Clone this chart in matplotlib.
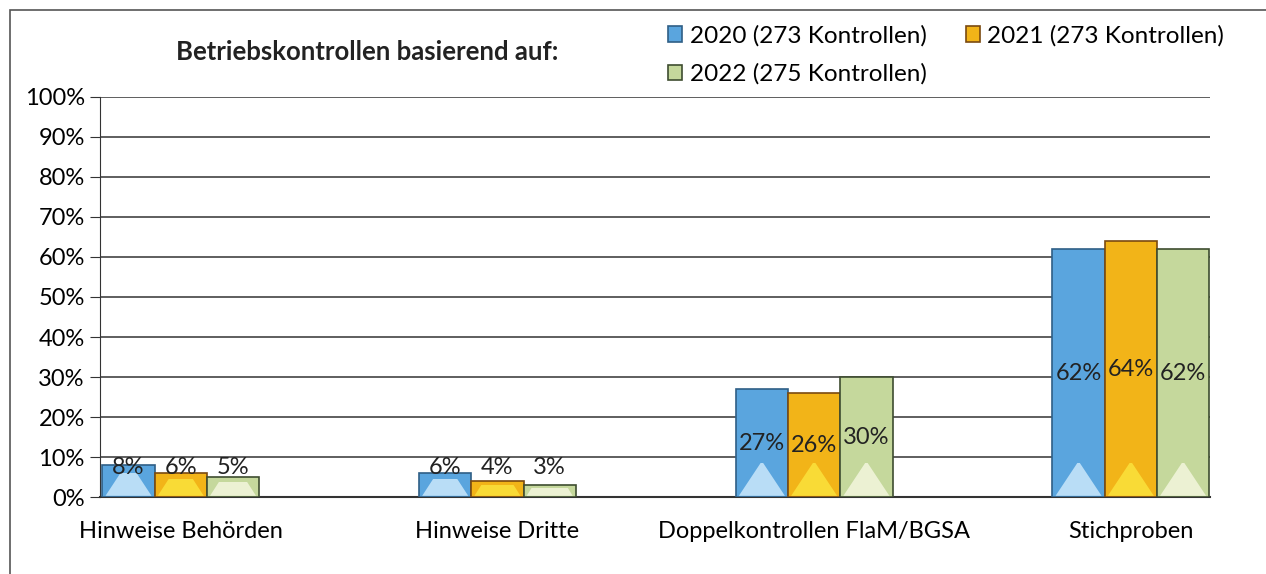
import matplotlib.pyplot as plt
import matplotlib.patches as patches
import numpy as np

categories = ['Hinweise Behörden', 'Hinweise Dritte', 'Doppelkontrollen FlaM/BGSA', 'Stichproben']
series_names = ['2020 (273 Kontrollen)', '2021 (273 Kontrollen)', '2022 (275 Kontrollen)']
v2020 = [8, 6, 27, 62]
v2021 = [6, 4, 26, 64]
v2022 = [5, 3, 30, 62]
yticks = list(range(0, 101, 10))

colors = ['#5aa5de', '#f2b418', '#c5d89c']
edges = ['#2f5f86', '#7a4a10', '#3e4d30']
lights = ['#cbe8fb', '#fbe23c', '#f3f6de']

plt.rcParams['font.family'] = ['Lato', 'DejaVu Sans']

fig = plt.figure(figsize=(12.66, 5.74), dpi=100)
ax = fig.add_axes([100 / 1266, 1 - 497 / 574, 1110 / 1266, 400 / 574])

x = np.arange(len(categories))
w = 0.165
handles = []
for i, vals in enumerate([v2020, v2021, v2022]):
    pos = x + (i - 1) * w
    bars = ax.bar(pos, vals, width=w, color=colors[i], edgecolor=edges[i], linewidth=1.2,
                  zorder=3, label=series_names[i])
    handles.append(bars)
    # light bevel at the bottom of each bar
    for rect in bars:
        x0, bw, h = rect.get_x(), rect.get_width(), rect.get_height()
        inset = bw * 0.06
        top = min(8.5, h * 0.75)
        frac = top / 8.5
        half = (bw / 2 - inset) * (1 - frac) + 0.004
        cx = x0 + bw / 2
        poly = [(x0 + inset, 0.3), (x0 + bw - inset, 0.3),
                (cx + half, top), (cx - half, top)]
        ax.add_patch(patches.Polygon(poly, closed=True, facecolor=lights[i],
                                     edgecolor='none', alpha=0.85, zorder=3.5))
    for p, v in zip(pos, vals):
        ax.text(p, max(v / 2, 7.3), f'{v}%', ha='center', va='center',
                fontsize=17, color='#222222', zorder=4)

ax.set_xlim(-0.255, 3.25)
ax.set_ylim(0, 100)
ax.set_yticks(yticks)
ax.set_yticklabels([f'{t}%' for t in yticks], fontsize=17)
ax.set_xticks(x)
ax.set_xticklabels(categories, fontsize=17)
ax.tick_params(axis='x', length=0, pad=17)
ax.tick_params(axis='y', length=7, direction='out', color='#333333', pad=4)
ax.yaxis.grid(True, color='#333333', linewidth=1.1, zorder=0)
for s in ['top', 'right']:
    ax.spines[s].set_visible(False)
ax.spines['left'].set_color('#333333')
ax.spines['bottom'].set_color('#333333')
ax.spines['bottom'].set_linewidth(1.5)

fig.text(367 / 1266, 1 - 52 / 574, 'Betriebskontrollen basierend auf:', ha='center', va='center',
         fontsize=18.5, fontweight='bold', color='#222222')

# row-major order: 2020, 2021 on the first row, 2022 below
order = [0, 2, 1]
leg = fig.legend([handles[k] for k in order], [series_names[k] for k in order],
                 loc='upper left', bbox_to_anchor=(646 / 1266, 1 - 3 / 574), ncol=2, frameon=False,
                 fontsize=17.5, handlelength=0.6, handleheight=0.6, handletextpad=0.3,
                 columnspacing=1.6, labelspacing=0.7)

# outer frame of the scanned chart
fig.add_artist(patches.Rectangle((10 / 1266, -0.1), 1.2, 1 - 10 / 574 + 0.1,
                                 transform=fig.transFigure, fill=False,
                                 edgecolor='#555555', linewidth=1.2))

fig.savefig('out.png', dpi=100)
